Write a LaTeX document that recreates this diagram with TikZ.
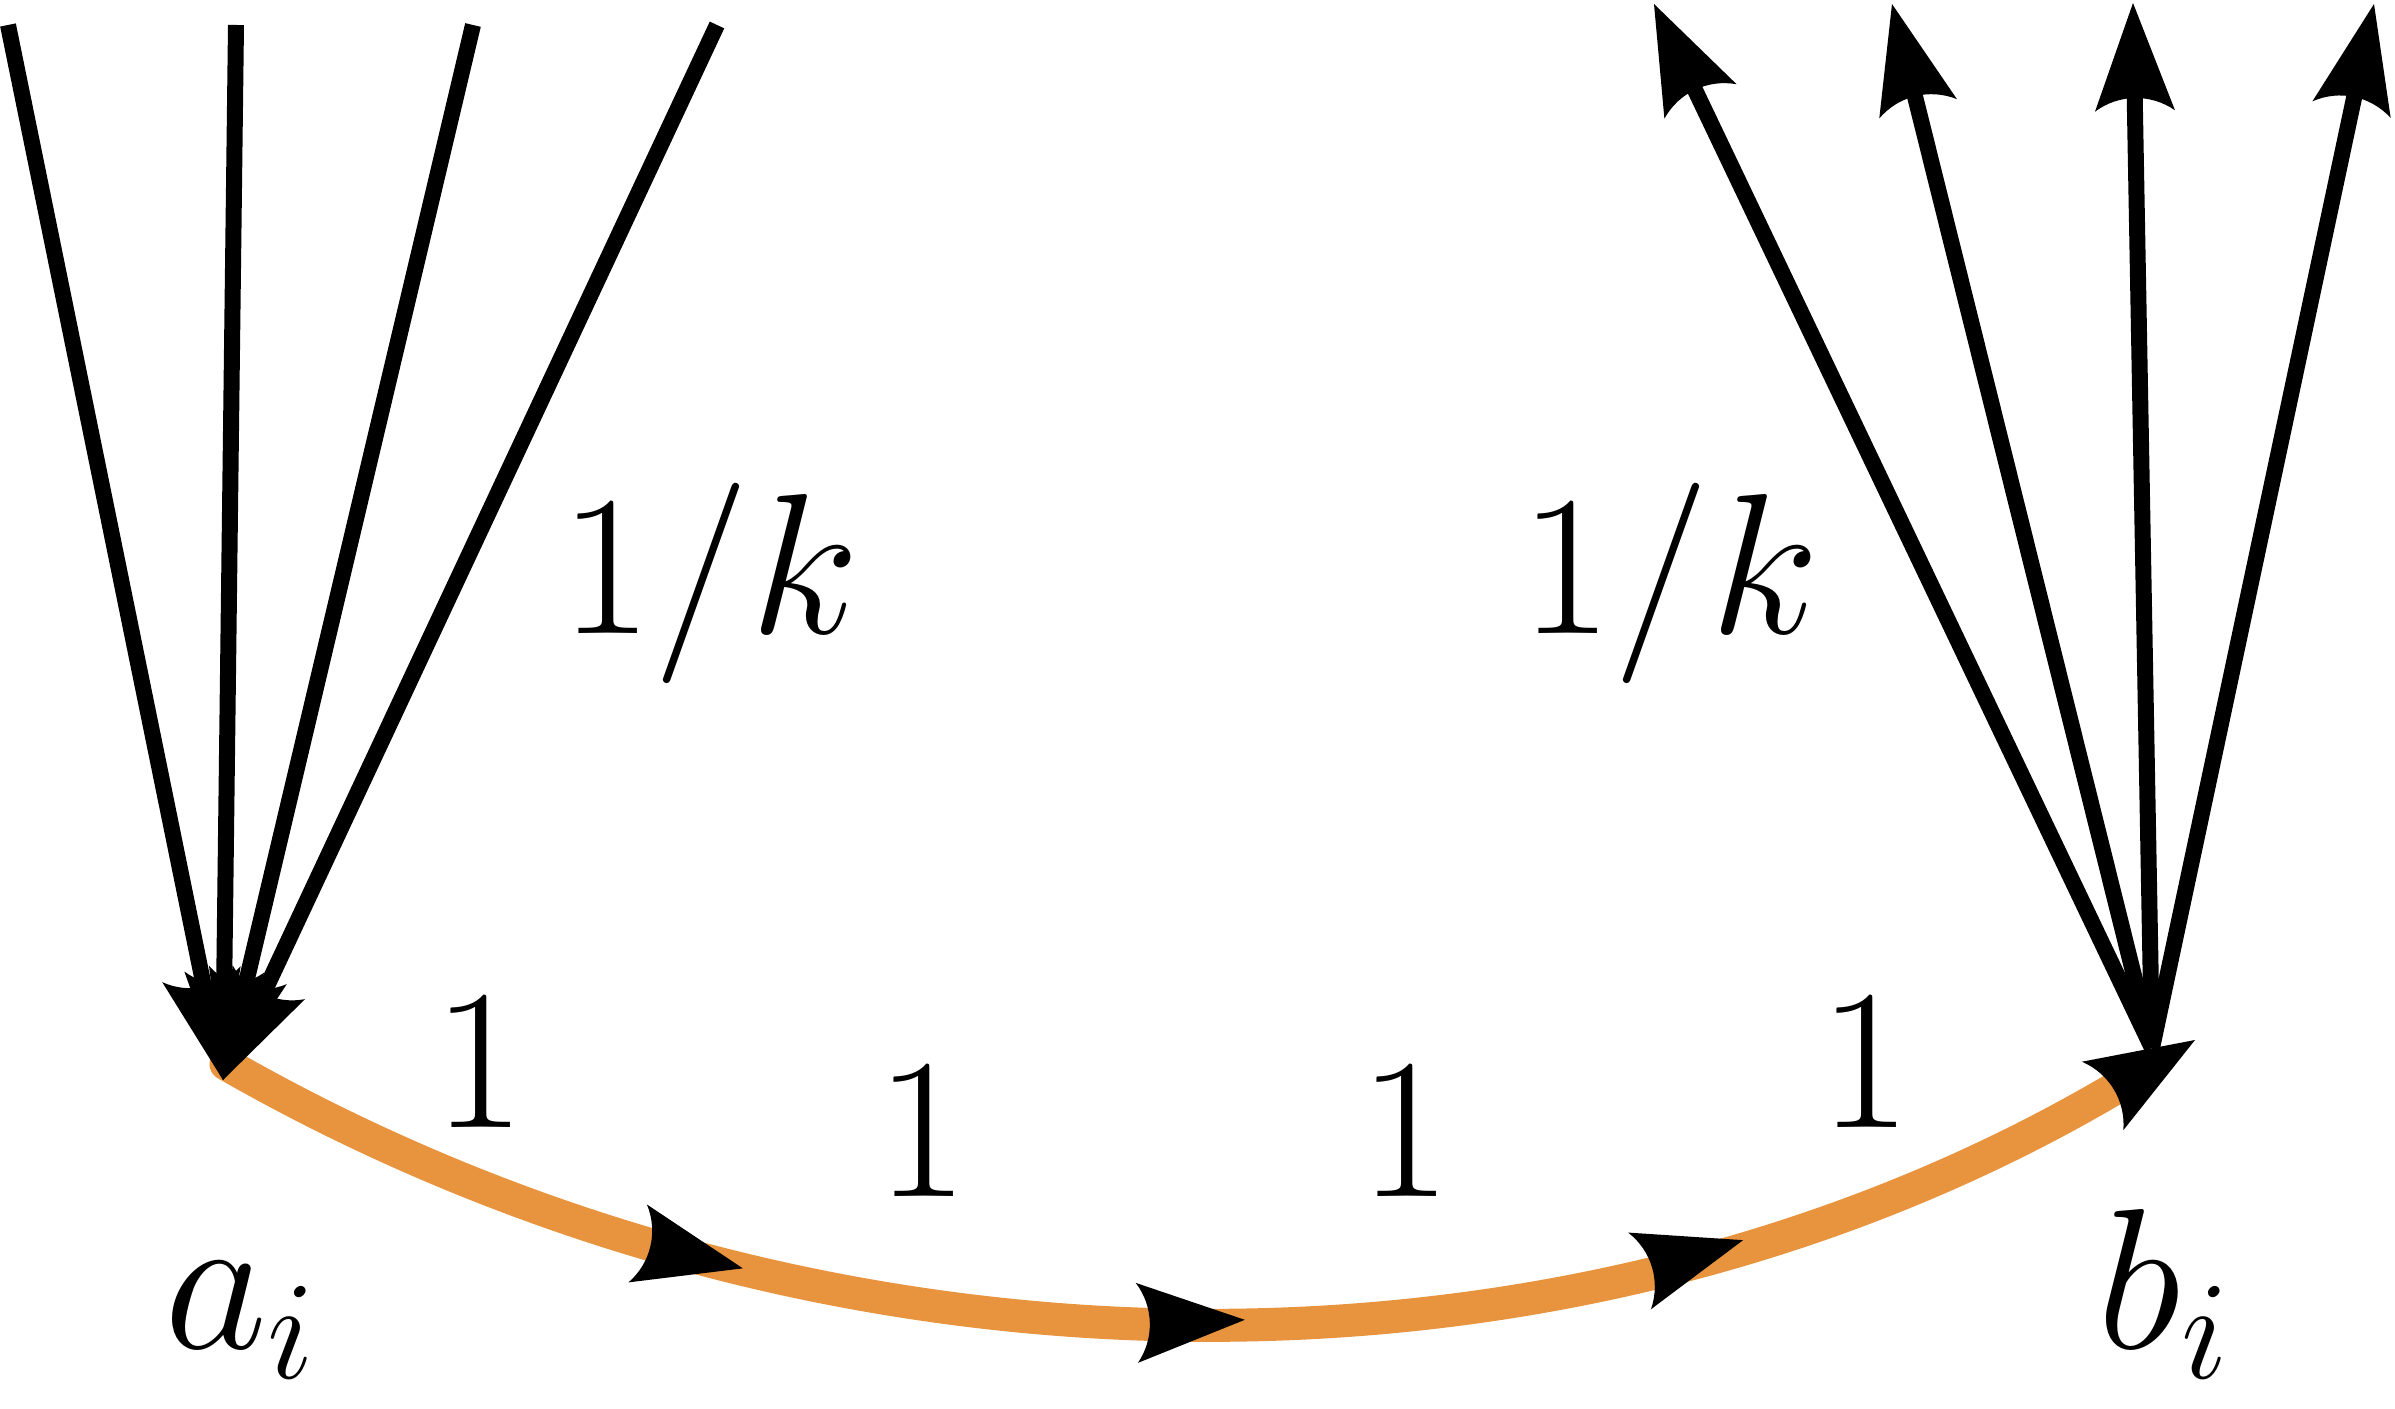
\RequirePackage{fix-cm}
\documentclass[tikz,border=0pt]{standalone}
\usepackage{graphicx}
\usetikzlibrary{arrows.meta,decorations.markings}
\definecolor{arcorange}{RGB}{232,148,62}
\pgfdeclarearrow{
  name = CStealth,
  defaults = {length = 1.08cm, width = 0.8cm},
  setup code = {
    \pgfarrowssettipend{\pgfarrowlength}
    \pgfarrowssetbackend{0pt}
    \pgfarrowssetlineend{0.3\pgfarrowlength}
    \pgfarrowssavethe\pgfarrowlength
    \pgfarrowssavethe\pgfarrowwidth
  },
  drawing code = {
    \pgfpathmoveto{\pgfqpoint{\pgfarrowlength}{0pt}}
    \pgfpathlineto{\pgfqpoint{0pt}{0.5\pgfarrowwidth}}
    \pgfpathcurveto{\pgfqpoint{0.16\pgfarrowlength}{0.2\pgfarrowwidth}}{\pgfqpoint{0.16\pgfarrowlength}{-0.2\pgfarrowwidth}}{\pgfqpoint{0pt}{-0.5\pgfarrowwidth}}
    \pgfpathclose
    \pgfusepathqfill
  },
  parameters = {\the\pgfarrowlength,\the\pgfarrowwidth},
}
\begin{document}
\begin{tikzpicture}[
  bigtip/.tip={CStealth[length=1.08cm,width=0.8cm,color=black,fill=black]},
  fan/.style={line width=0.16cm, black, line cap=butt, -{bigtip}},
  arcline/.style={line width=0.33cm, arcorange, line cap=round, -{bigtip},
    postaction={decorate},
    decoration={markings,
      mark=at position 0.27 with {\arrow{bigtip}},
      mark=at position 0.515 with {\arrow{bigtip}},
      mark=at position 0.76 with {\arrow{bigtip}}}},
  lab/.style={inner sep=0pt, anchor=base, font=\fontsize{57}{68}\selectfont}
]
\useasboundingbox (0,0) rectangle (23.95,14.08);
% key points
\coordinate (aS) at (2.26,3.44);
\coordinate (aF) at (2.23,3.28);
\coordinate (bE) at (21.95,3.68);
\coordinate (bF) at (21.52,3.60);
\coordinate (L1) at (0.08,13.83);
\coordinate (L2) at (2.36,13.83);
\coordinate (L3) at (4.73,13.83);
\coordinate (L4) at (7.17,13.83);
\coordinate (R1) at (16.54,14.04);
\coordinate (R2) at (18.92,14.04);
\coordinate (R3) at (21.33,14.05);
\coordinate (R4) at (23.74,14.04);
% orange arc
\draw[arcline] (aS) to[bend right=30.5, looseness=0.915] (bE);
% left fan
\draw[fan] (L1) -- (aF);
\draw[fan] (L2) -- (aF);
\draw[fan] (L3) -- (aF);
\draw[fan] (L4) -- (aF);
% right fan
\draw[fan] (bF) -- (R1);
\draw[fan] (bF) -- (R2);
\draw[fan] (bF) -- (R3);
\draw[fan] (bF) -- (R4);
% labels
\node[lab, anchor=base west] (kL) at (5.60,7.74) {$1/k$};
\node[lab] (kR) at (16.70,7.74) {$1/k$};
\node[lab] (w1) at (4.79,2.80) {$1$};
\node[lab] (w2) at (9.22,2.11) {$1$};
\node[lab] (w3) at (14.05,2.11) {$1$};
\node[lab] (w4) at (18.65,2.80) {$1$};
\node[lab, anchor=base west] (ai) at (1.64,0.60) {$a_i$};
\node[lab, anchor=base west] (bi) at (20.97,0.60) {$b_i$};
\end{tikzpicture}
\end{document}
